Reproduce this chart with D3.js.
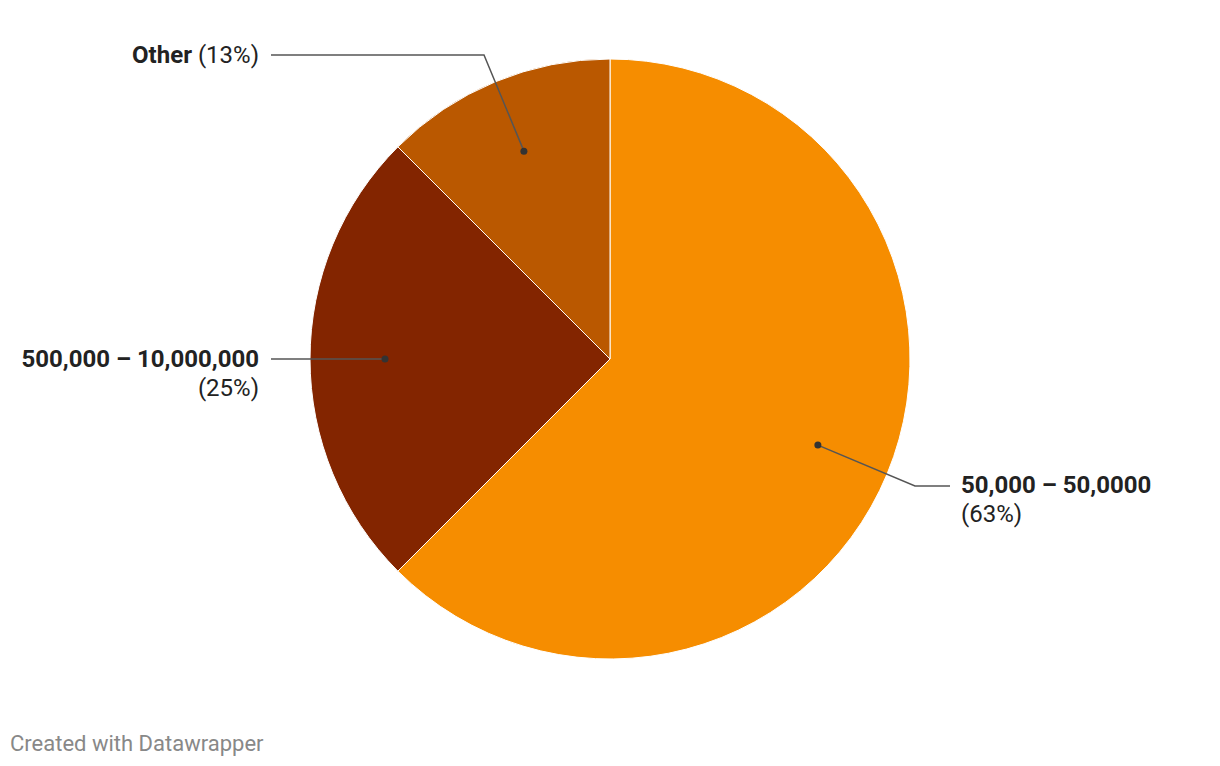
<!DOCTYPE html>
<html>
<head>
<meta charset="utf-8">
<script src="https://cdn.jsdelivr.net/npm/d3@7"></script>
<style>
  body { margin: 0; background: #fff; font-family: Roboto, "Noto Sans", sans-serif; }
  svg { display: block; }
  .lbl { font-size: 24px; fill: #222; }
  .lbl .name { font-weight: 700; }
  .leader { fill: none; stroke: #555; stroke-width: 1.5; }
  .footer { font-size: 22px; fill: #888; }
</style>
</head>
<body>
<div id="chart"></div>
<script>
// data
const categories = ["50,000 – 50,0000", "500,000 – 10,000,000", "Other"];
const shares = [62.5, 25, 12.5];
const shareLabels = ["63%", "25%", "13%"];
const colors = ["#f68d00", "#832500", "#ba5800"];

const width = 1220, height = 766;
const cx = 610, cy = 359, radius = 300;

const svg = d3.select("#chart").append("svg")
    .attr("width", width)
    .attr("height", height);

const g = svg.append("g").attr("transform", `translate(${cx},${cy})`);

const pie = d3.pie().sort(null).value(d => d.value);
const arcs = pie(categories.map((c, i) => ({ name: c, value: shares[i], pct: shareLabels[i], color: colors[i] })));

const arc = d3.arc().innerRadius(0).outerRadius(radius);
const dotArc = d3.arc().innerRadius(radius * 0.75).outerRadius(radius * 0.75);

g.selectAll("path.slice")
    .data(arcs).join("path")
    .attr("class", "slice")
    .attr("d", arc)
    .attr("fill", d => d.data.color)
    .attr("stroke", "#fff")
    .attr("stroke-width", 1);

// label layout (elbow + text anchor, relative to center)
const layout = {
    "50,000 – 50,0000":     { elbow: [305, 127], end: [340, 127], tx: 351, ty: 134, anchor: "start", wrap: true },
    "500,000 – 10,000,000": { elbow: null,       end: [-339, 0],  tx: -351, ty: 8,  anchor: "end",   wrap: true },
    "Other":                { elbow: [-126, -304], end: [-339, -304], tx: -351, ty: -296, anchor: "end", wrap: false }
};

arcs.forEach(d => {
    const L = layout[d.data.name];
    const [dx, dy] = dotArc.centroid(d);
    const pts = [[dx, dy]];
    if (L.elbow) pts.push(L.elbow);
    pts.push(L.end);
    g.append("path")
        .attr("class", "leader")
        .attr("d", d3.line()(pts));
    g.append("circle")
        .attr("cx", dx).attr("cy", dy)
        .attr("r", 3.5)
        .attr("fill", "#333");

    const t = g.append("text")
        .attr("class", "lbl")
        .attr("x", L.tx).attr("y", L.ty)
        .attr("text-anchor", L.anchor);
    if (L.wrap) {
        t.append("tspan").attr("class", "name").text(d.data.name);
        t.append("tspan").attr("x", L.tx).attr("dy", 28.5).text(`(${d.data.pct})`);
    } else {
        t.append("tspan").attr("class", "name").text(d.data.name);
        t.append("tspan").text(` (${d.data.pct})`);
    }
});

svg.append("text")
    .attr("class", "footer")
    .attr("x", 10).attr("y", 751)
    .text("Created with Datawrapper");
</script>
</body>
</html>
